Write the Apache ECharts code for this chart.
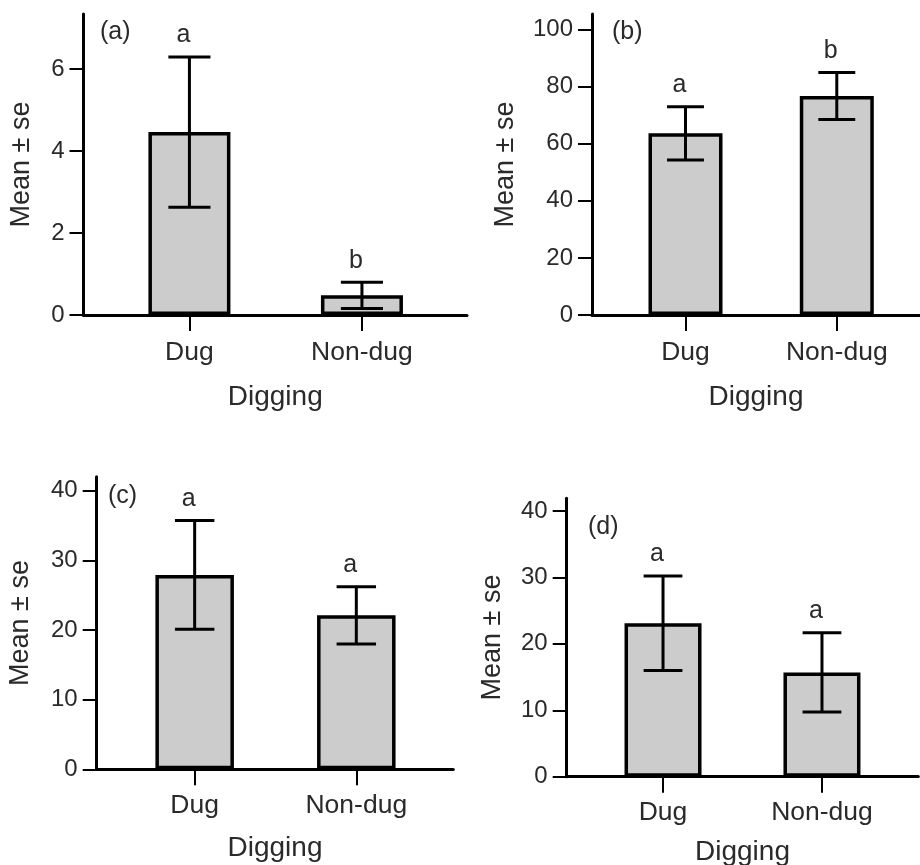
<!DOCTYPE html>
<html><head><meta charset="utf-8">
<script src="https://cdn.jsdelivr.net/npm/echarts@6/dist/echarts.min.js"></script>
<style>html,body{margin:0;padding:0;background:#fff}#c{width:920px;height:865px}</style>
</head><body><div id="c"></div>
<script>
// ---- data ----
const categories = ['Dug', 'Non-dug'];
const panelLabels = ['(a)', '(b)', '(c)', '(d)'];
const xTitle = 'Digging';
const yTitle = 'Mean ± se';

const meansA = [4.46, 0.48];  const seA = [1.83, 0.32];  const lettersA = ['a', 'b'];
const meansB = [63.6, 76.7];  const seB = [9.3, 8.2];    const lettersB = ['a', 'b'];
const meansC = [27.9, 22.1];  const seC = [7.8, 4.1];    const lettersC = ['a', 'a'];
const meansD = [23.1, 15.7];  const seD = [7.1, 5.95];   const lettersD = ['a', 'a'];

const yTicksA = [0, 2, 4, 6];
const yTicksB = [0, 20, 40, 60, 80, 100];
const yTicksC = [0, 10, 20, 30, 40];
const yTicksD = [0, 10, 20, 30, 40];
const xTicks = [0, 1];

// ---- layout / style (not data) ----
const FONT = '"Liberation Sans", Arial, sans-serif';
const TXT = '#2a2a2a';
const layout = [
  {left: 83.5, top: 14,    width: 383.5, height: 301,   yMax: 7.34,  xMin: -0.614, xMax: 1.609, barW: 82,   lm: 24, xg: 68, yg: 48, tag: [100, 20]},
  {left: 592,  top: 14,    width: 328,   height: 301,   yMax: 105.4, xMin: -0.618, xMax: 1.55,  barW: 74,   lm: 24, xg: 68, yg: 73, tag: [612, 20]},
  {left: 96.7, top: 476.7, width: 356.6, height: 292.6, yMax: 42.0,  xMin: -0.606, xMax: 1.60,  barW: 78.5, lm: 23, xg: 65, yg: 63, tag: [108, 484]},
  {left: 566.7,top: 498.3, width: 351.6, height: 278.4, yMax: 41.9,  xMin: -0.606, xMax: 1.606, barW: 77,   lm: 22, xg: 62, yg: 61, tag: [588, 515]}
];
const panels = [
  {means: meansA, se: seA, letters: lettersA, ticks: yTicksA},
  {means: meansB, se: seB, letters: lettersB, ticks: yTicksB},
  {means: meansC, se: seC, letters: lettersC, ticks: yTicksC},
  {means: meansD, se: seD, letters: lettersD, ticks: yTicksD}
];
const CAP_HALF = 0.122;

const grid = [], xAxis = [], yAxis = [], series = [], title = [];
panels.forEach((p, i) => {
  const L = layout[i];
  grid.push({left: L.left, top: L.top, width: L.width, height: L.height, containLabel: false, outerBoundsMode: 'none'});
  title.push({text: panelLabels[i], left: L.tag[0], top: L.tag[1], padding: 0,
    textStyle: {fontSize: 25, fontWeight: 'normal', color: TXT, fontFamily: FONT}});
  xAxis.push({
    gridIndex: i, type: 'value', min: L.xMin, max: L.xMax,
    axisLine: {show: true, onZero: false, lineStyle: {color: '#000', width: 3}},
    axisTick: {show: true, customValues: xTicks, length: 16, lineStyle: {color: '#000', width: 2}},
    axisLabel: {customValues: xTicks, formatter: v => categories[Math.round(v)], margin: L.lm,
      fontSize: 26.5, color: TXT, fontFamily: FONT},
    splitLine: {show: false},
    name: xTitle, nameLocation: 'middle', nameGap: L.xg,
    nameTextStyle: {fontSize: 28, color: TXT, fontFamily: FONT}
  });
  yAxis.push({
    gridIndex: i, type: 'value', min: 0, max: L.yMax,
    axisLine: {show: true, onZero: false, lineStyle: {color: '#000', width: 3}},
    axisTick: {show: true, customValues: p.ticks, length: 14, lineStyle: {color: '#000', width: 2}},
    axisLabel: {customValues: p.ticks, margin: 19, fontSize: 24, color: TXT, fontFamily: FONT},
    splitLine: {show: false},
    name: yTitle, nameLocation: 'middle', nameGap: L.yg, nameRotate: 90,
    nameTextStyle: {fontSize: 27, color: TXT, fontFamily: FONT}
  });
  series.push({
    type: 'bar', xAxisIndex: i, yAxisIndex: i, barWidth: L.barW,
    data: categories.map((c, k) => [k, p.means[k]]),
    itemStyle: {color: '#cccccc', borderColor: '#000', borderWidth: 3.5},
    z: 2
  });
  series.push({
    type: 'custom', xAxisIndex: i, yAxisIndex: i, z: 5,
    data: categories.map((c, k) => [k, p.means[k], p.se[k]]),
    renderItem: (params, api) => {
      const x = api.value(0), m = api.value(1), s = api.value(2);
      const top = api.coord([x, m + s]);
      const bot = api.coord([x, m - s]);
      const cl = api.coord([x - CAP_HALF, m])[0];
      const cr = api.coord([x + CAP_HALF, m])[0];
      const st = {stroke: '#000', lineWidth: 3};
      return {type: 'group', children: [
        {type: 'line', shape: {x1: top[0], y1: top[1], x2: bot[0], y2: bot[1]}, style: st},
        {type: 'line', shape: {x1: cl, y1: top[1], x2: cr, y2: top[1]}, style: st},
        {type: 'line', shape: {x1: cl, y1: bot[1], x2: cr, y2: bot[1]}, style: st},
        {type: 'text', x: top[0] - 6, y: top[1] - 9,
          style: {text: p.letters[params.dataIndex], fontSize: 25, fontFamily: FONT, fill: TXT,
            align: 'center', verticalAlign: 'bottom'}}
      ]};
    }
  });
});

const chart = echarts.init(document.getElementById('c'), null, {renderer: 'canvas'});
chart.setOption({animation: false, backgroundColor: '#fff', title, grid, xAxis, yAxis, series});
</script>
</body></html>
